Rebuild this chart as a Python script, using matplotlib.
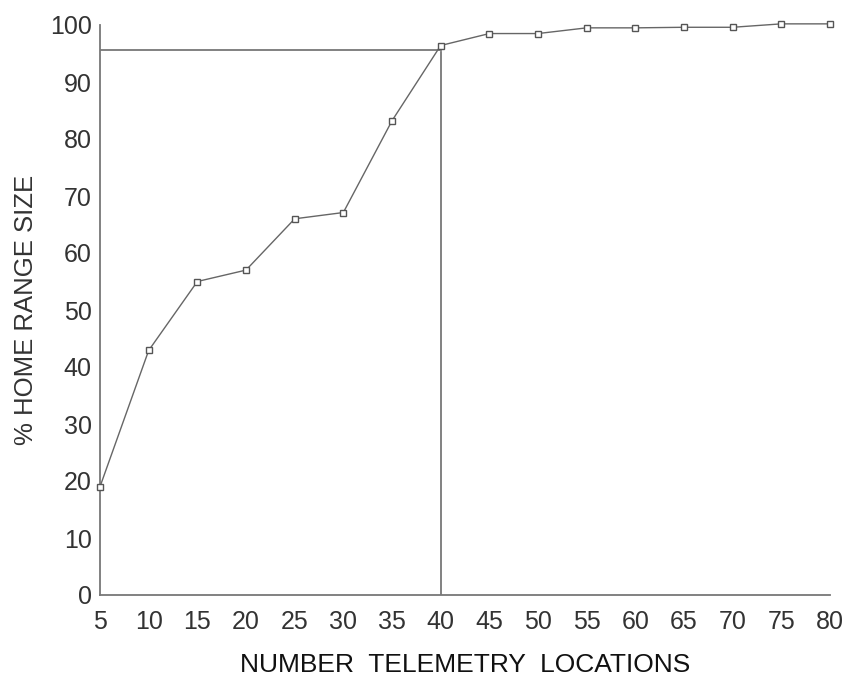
import matplotlib
matplotlib.use("Agg")
import matplotlib.pyplot as plt

locations = [5, 10, 15, 20, 25, 30, 35, 40, 45, 50, 55, 60, 65, 70, 75, 80]
pct_size = [19.0, 42.9, 55.0, 57.0, 66.0, 67.1, 83.2, 96.4, 98.5, 98.5, 99.5, 99.5, 99.6, 99.6, 100.2, 100.2]
ref_x = 40
ref_y = 95.7
x_ticks = list(range(5, 81, 5))
y_ticks = list(range(0, 101, 10))

plt.rcParams['font.family'] = ['Liberation Sans', 'DejaVu Sans']

fig = plt.figure(figsize=(8.49, 6.78), dpi=100)
ax = fig.add_axes([100/849, 1-595/678, 730/849, 570/678])

ax.plot(locations, pct_size, color='#666666', lw=1.0, marker='s', ms=4.5,
        mfc='white', mec='#555555', mew=1.0, zorder=3, clip_on=False)
ax.plot([locations[0], ref_x], [ref_y, ref_y], color='#777777', lw=1.3, zorder=2)
ax.plot([ref_x, ref_x], [0, ref_y - 0.5], color='#777777', lw=1.3, zorder=2)

ax.set_xlim(5, 80)
ax.set_ylim(0, 100)
ax.set_xticks(x_ticks)
ax.set_yticks(y_ticks)
ax.tick_params(length=0, labelsize=18, labelcolor='#333333')
ax.tick_params(axis='x', pad=11)
ax.tick_params(axis='y', pad=6)
for s in ['top', 'right']:
    ax.spines[s].set_visible(False)
for s in ['left', 'bottom']:
    ax.spines[s].set_color('#777777')
    ax.spines[s].set_linewidth(1.3)

ax.set_xlabel('NUMBER  TELEMETRY  LOCATIONS', fontsize=19, color='#111111')
ax.xaxis.set_label_coords((465 - 100) / 730, -0.102)
ax.set_ylabel('% HOME RANGE SIZE', fontsize=18.5, color='#333333')
ax.yaxis.set_label_coords((38 - 100) / 730, 0.5)

fig.savefig('out.png', dpi=100)
